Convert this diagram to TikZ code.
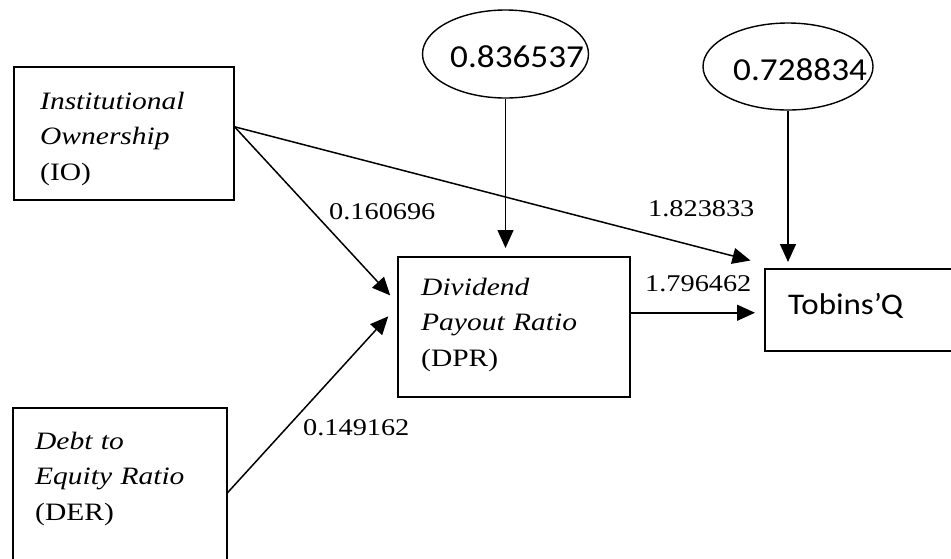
\documentclass[tikz,border=0pt]{standalone}
\usepackage{fontspec}
\usetikzlibrary{arrows.meta,shapes.geometric}
\newfontfamily\serifstretch{Liberation Serif}[FakeStretch=1.18]
\newfontfamily\calib{Carlito}[FakeStretch=1.1]
\begin{document}
\begin{tikzpicture}[x=1pt,y=-1pt,
  box/.style={draw, line width=1.5pt, inner sep=0pt, anchor=north west},
  oval/.style={draw, ellipse, line width=1.4pt, inner sep=0pt},
  boxtext/.style={anchor=base west, inner sep=0pt, text width=200pt, align=left, font=\serifstretch\fontsize{25}{35.5}\selectfont},
  coef/.style={anchor=base west, inner sep=0pt, font=\serifstretch\fontsize{24}{28}\selectfont},
  big/.style={anchor=base west, inner sep=0pt, font=\calib\fontsize{32}{36}\selectfont},
  mid/.style={anchor=base west, inner sep=0pt, font=\calib\fontsize{30}{34}\selectfont},
  arr/.style={line width=1.5pt, -{Triangle[length=18pt,width=16pt]}}]
\useasboundingbox (0,0) rectangle (951,558);
\clip (0,0) rectangle (951,558);
% boxes
\node[box, minimum width=220pt, minimum height=133pt] (io) at (13,66) {};
\node[box, minimum width=214pt, minimum height=170pt] (der) at (12,407) {};
\node[box, minimum width=232pt, minimum height=140pt] (dpr) at (397,256) {};
\node[box, minimum width=205pt, minimum height=82pt] (tq) at (764,268) {};
\node[oval, minimum width=166pt, minimum height=88pt] (e1) at (505.5,54) {};
\node[oval, minimum width=170pt, minimum height=87pt] (e2) at (788,66.5) {};
% texts
\node[boxtext] (iot) at (40,109) {{\itshape Institutional}\\{\itshape Ownership}\\(IO)};
\node[boxtext] (dert) at (35,449) {{\itshape Debt to}\\{\itshape Equity Ratio}\\(DER)};
\node[boxtext] (dprt) at (421,295) {{\itshape Dividend}\\{\itshape Payout Ratio}\\(DPR)};
\node[mid] (tqt) at (788,314) {Tobins’Q};
\node[big] (e1t) at (450,67) {0.836537};
\node[big] (e2t) at (733,80) {0.728834};
% connectors
\draw[arr, shorten >=10pt] ([yshift=6.5pt]io.east) -- ([yshift=24pt]dpr.west);
\draw[arr, shorten >=14pt] ([yshift=6.5pt]io.east) -- ([yshift=4pt]tq.north west);
\draw[arr, shorten >=13pt] (der.east) -- ([yshift=20pt]dpr.west);
\draw[arr, shorten >=9pt] ([yshift=14pt]dpr.east) -- ([yshift=-3pt]tq.west);
\draw[arr, shorten >=8pt] (e1.south) -- (e1.south |- dpr.north);
\draw[arr, shorten >=6pt] (e2.south) -- (e2.south |- tq.north);
% coefficients
\node[coef] (c1) at (329,219) {0.160696};
\node[coef] (c2) at (303,435) {0.149162};
\node[coef] (c3) at (648,216) {1.823833};
\node[coef] (c4) at (645,291) {1.796462};
\end{tikzpicture}
\end{document}
